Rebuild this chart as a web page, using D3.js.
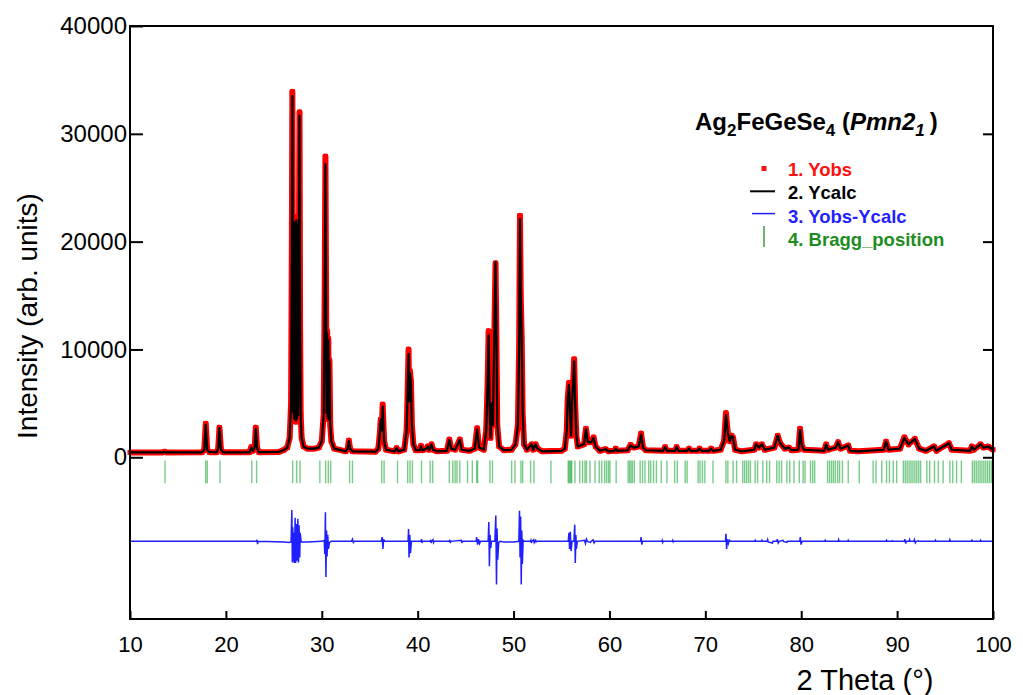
<!DOCTYPE html>
<html>
<head>
<meta charset="utf-8">
<script src="https://cdn.jsdelivr.net/npm/d3@7"></script>
<style>
    html, body { margin: 0; padding: 0; background: #fff; }
    svg { display: block; font-family: "Liberation Sans", Arial, sans-serif; }
</style>
</head>
<body>
<div class="container"></div>
<script>
const twoTheta = [
    10.0, 13.4, 13.6, 13.8, 17.5, 17.75, 17.9, 18.05, 18.3,
    19.05, 19.2, 19.33, 19.48, 19.7, 22.45, 22.65, 22.82, 23.0, 23.12, 23.25, 23.45,
    25.5, 26.0, 26.4, 26.65, 26.8, 26.88, 26.93, 26.98, 27.02, 27.06, 27.1,
    27.15, 27.2, 27.25, 27.3, 27.36, 27.42, 27.48, 27.54, 27.6, 27.68, 27.74, 27.8,
    27.9, 28.1, 28.5, 29.2, 29.7, 30.0, 30.2, 30.3, 30.38, 30.45, 30.5,
    30.56, 30.62, 30.68, 30.74, 30.8, 30.88, 31.0, 31.3, 32.5, 32.7, 32.83, 32.95, 33.2,
    35.6, 35.9, 36.05, 36.15, 36.25, 36.35, 36.5, 36.7, 37.6, 37.8, 38.0,
    38.6, 38.85, 38.95, 39.05, 39.12, 39.2, 39.3, 39.4, 39.55, 39.8,
    40.2, 40.35, 40.5, 40.9, 41.05, 41.2, 41.45, 41.6, 42.0,
    43.05, 43.3, 43.5, 43.9, 44.4, 44.6, 45.4, 45.95, 46.2, 46.4, 46.9,
    47.15, 47.3, 47.4, 47.5, 47.6, 47.7, 47.85, 47.95, 48.06, 48.12, 48.2, 48.3, 48.5,
    49.0, 49.8, 50.2, 50.45, 50.58, 50.67, 50.75, 50.85, 50.95, 51.1, 51.4,
    51.9, 52.05, 52.3, 52.5, 53.0, 55.0, 55.35, 55.55, 55.65, 55.78, 55.9, 56.0,
    56.1, 56.22, 56.32, 56.42, 56.55, 56.7, 57.35, 57.55, 57.75, 58.1, 58.35, 58.55, 59.0,
    59.6, 59.9, 60.5, 60.65, 60.8, 61.9, 62.2, 62.5, 63.05, 63.3, 63.5, 63.8,
    65.6, 65.8, 66.0, 66.85, 67.0, 67.2, 68.1, 68.3, 68.5, 69.2, 69.4, 69.6, 70.4, 70.6, 70.8,
    71.6, 71.95, 72.15, 72.35, 72.55, 72.75, 72.9, 73.1, 73.8,
    75.1, 75.3, 75.6, 75.9, 76.2, 77.2, 77.55, 77.8, 78.3, 78.7, 79.0,
    79.7, 79.88, 80.05, 80.3, 82.4, 82.6, 82.8, 83.6, 83.85, 84.1, 84.9, 85.1, 86.0,
    88.6, 88.85, 89.1, 90.3, 90.75, 91.2, 91.85, 92.3, 93.0, 93.85, 94.1, 95.4, 95.7,
    97.6, 97.8, 98.0, 98.7, 99.0, 99.5, 100.0
];
const yObs = [
    450, 450, 520, 450, 460, 700, 3100, 700, 470,
    470, 800, 2750, 750, 460, 460, 950, 600, 900, 2750, 900, 470,
    500, 650, 900, 1800, 5000, 20000, 33900, 16000, 4000, 21500, 3500,
    22000, 3400, 21800, 3300, 22300, 3500, 21800, 3800, 15000, 32000, 12000, 4000,
    1800, 1000, 800, 800, 900, 1500, 4000, 15000, 27900, 15000, 4000,
    11700, 3600, 11000, 3500, 9000, 3000, 1500, 800, 550, 800, 1550, 800, 550,
    520, 800, 2200, 3500, 2500, 4900, 1500, 700, 550, 850, 550,
    700, 2500, 6000, 10000, 5000, 8000, 7000, 3000, 1200, 650,
    650, 1050, 650, 800, 1000, 700, 1200, 700, 550,
    600, 1650, 800, 700, 1650, 700, 600, 800, 2700, 900, 700,
    2500, 7000, 11700, 4500, 1800, 5000, 3000, 9000, 15000, 18000, 12000, 3000, 1000,
    650, 700, 1200, 3000, 10000, 22400, 15000, 11000, 4000, 1200, 700,
    1200, 700, 1200, 800, 550, 600, 800, 2500, 5500, 6900, 4000, 2000,
    5000, 7000, 9100, 5000, 2000, 1000, 1200, 2650, 1400, 1400, 1850, 1000, 600,
    750, 550, 600, 800, 600, 650, 1150, 900, 1000, 2200, 900, 650,
    600, 950, 600, 600, 950, 600, 600, 800, 600, 600, 800, 600, 600, 800, 600,
    700, 1500, 4100, 2200, 1500, 2000, 1800, 700, 550,
    700, 1200, 900, 1200, 700, 900, 2000, 1300, 800, 900, 650,
    700, 2650, 1100, 700, 600, 1200, 700, 900, 1400, 800, 1100, 600, 550,
    700, 1450, 700, 800, 1850, 1200, 1700, 800, 600, 1000, 600, 1300, 700,
    600, 1000, 700, 1200, 900, 1000, 700
];
const yCalc = [
    450, 450, 500, 450, 460, 700, 3000, 700, 470,
    470, 800, 2700, 750, 460, 460, 900, 600, 900, 2650, 900, 470,
    500, 650, 900, 1800, 5000, 19000, 33500, 16500, 4200, 21000, 3600,
    21800, 3500, 21500, 3400, 22000, 3600, 21600, 3900, 15000, 31700, 12200, 4000,
    1800, 1000, 800, 800, 900, 1500, 4000, 14500, 27200, 15500, 4100,
    11500, 3600, 10900, 3500, 8900, 3000, 1500, 800, 550, 800, 1500, 800, 550,
    520, 800, 2200, 3500, 2500, 4700, 1500, 700, 550, 850, 550,
    700, 2500, 6000, 9600, 5200, 7800, 6900, 3000, 1200, 650,
    650, 1000, 650, 800, 1000, 700, 1200, 700, 550,
    600, 1600, 800, 700, 1600, 700, 600, 800, 2600, 900, 700,
    2500, 7000, 11300, 4700, 1800, 5000, 3000, 9000, 15000, 18100, 12500, 3200, 1000,
    650, 700, 1200, 3000, 10000, 22100, 15300, 11000, 4200, 1200, 700,
    1200, 700, 1200, 800, 550, 600, 800, 2500, 5500, 6700, 4000, 2000,
    5000, 7000, 8900, 5200, 2000, 1000, 1200, 2600, 1400, 1400, 1800, 1000, 600,
    750, 550, 600, 800, 600, 650, 1100, 900, 1000, 2100, 900, 650,
    600, 950, 600, 600, 950, 600, 600, 800, 600, 600, 800, 600, 600, 800, 600,
    700, 1500, 3900, 2200, 1500, 2000, 1800, 700, 550,
    700, 1200, 900, 1200, 700, 900, 2000, 1300, 800, 900, 650,
    700, 2550, 1100, 700, 600, 1200, 700, 900, 1400, 800, 1100, 600, 550,
    700, 1450, 700, 800, 1800, 1200, 1700, 800, 600, 1000, 600, 1300, 700,
    600, 1000, 700, 1200, 900, 1000, 700
];

// difference curve (Yobs - Ycalc, plotted with offset)
const diffTheta = [
    10.0, 23.2, 23.25, 23.3, 23.35, 26.0, 26.6, 26.8,
    26.88, 26.93, 26.98, 27.03, 27.1, 27.15, 27.22, 27.28, 27.35, 27.42, 27.5, 27.57, 27.63, 27.7, 27.75, 27.85,
    28.5, 30.0, 30.25, 30.32, 30.38, 30.43, 30.5, 30.55, 30.62, 30.7, 30.8, 31.0,
    33.1, 33.2, 33.3, 33.4, 36.2, 36.3, 36.38, 36.45, 36.55,
    39.0, 39.05, 39.1, 39.18, 39.25, 39.35,
    40.35, 40.4, 40.45, 40.5, 41.3, 41.35, 41.4, 41.45, 41.6, 41.65, 41.7,
    43.3, 43.35, 43.4, 43.45, 44.55, 44.6, 44.65, 46.1,
    46.15, 46.25, 46.35, 46.45, 46.55, 47.35, 47.42, 47.48, 47.55, 47.62, 47.7,
    48.05, 48.15, 48.22, 48.28, 48.35, 48.45, 48.6,
    49.0, 50.0, 50.55, 50.62, 50.68, 50.74, 50.8, 50.86, 50.92, 51.0, 51.1,
    51.75, 51.8, 51.85, 51.9, 52.1, 52.15, 52.2, 52.3, 52.35, 52.4,
    55.7, 55.78, 55.84, 55.92, 56.0, 56.1, 56.3, 56.38, 56.44, 56.5, 56.55, 56.65,
    57.4, 57.5, 57.6, 57.7, 58.0, 58.1, 58.3, 58.4, 58.5,
    63.25, 63.3, 63.38, 63.45, 65.45, 65.5, 65.55, 65.6, 66.55, 66.6, 66.65, 66.7,
    72.1, 72.15, 72.22, 72.3, 72.4, 72.5, 72.6,
    75.15, 75.2, 75.25, 75.85, 75.9, 75.95, 76.45, 76.5, 76.55, 77.0, 77.05,
    77.45, 77.5, 77.6, 77.7, 78.1, 78.15, 78.5, 78.55,
    79.85, 79.9, 79.98, 80.1, 82.45, 82.5, 82.55, 83.85, 83.9, 83.95, 84.85, 84.9, 84.95,
    88.85, 88.9, 88.95, 89.45, 89.5, 89.55, 90.75, 90.8, 90.9, 90.95,
    91.25, 91.3, 91.35, 91.75, 91.8, 91.9, 92.0, 92.2, 92.25,
    93.95, 94.0, 94.05, 95.45, 95.5, 95.55, 97.75, 97.8, 97.85, 98.65, 98.7, 98.75, 100.0
];
const diffVal = [
    -7800, -7800, -7650, -8050, -7800, -7850, -7900, -7850,
    -4900, -9750, -6500, -9700, -7000, -9800, -5600, -9800, -6200, -9600, -5700, -9750, -6300, -9300, -7000, -7850,
    -7850, -7800, -7700, -9000, -5100, -11100, -6800, -9200, -7200, -8500, -7900, -7800,
    -7800, -7600, -7900, -7800, -7800, -7400, -8500, -7600, -7800,
    -7800, -6650, -9300, -7200, -8900, -7800,
    -7800, -7600, -7950, -7800, -7800, -7650, -7950, -7800, -7650, -7900, -7800,
    -7800, -7650, -7950, -7800, -7700, -7950, -7800, -7800,
    -7400, -8100, -7600, -8000, -7800, -7800, -6000, -10100, -7200, -8400, -7800,
    -7800, -5400, -11800, -6600, -9500, -7900, -7800,
    -7850, -7850, -7800, -4950, -9300, -5500, -11800, -6800, -9900, -7700, -7800,
    -7800, -7700, -7950, -7800, -7650, -7900, -7800, -7700, -7850, -7800,
    -7800, -7000, -8500, -6900, -8700, -7800, -7800, -6250, -9800, -7200, -8500, -7800,
    -7700, -8000, -7600, -7800, -7900, -7800, -7650, -7950, -7800,
    -7800, -7400, -8100, -7800, -7800, -7700, -7900, -7800, -7800, -7700, -7850, -7800,
    -7800, -7100, -8500, -7600, -8000, -7700, -7800,
    -7800, -7700, -7800, -7800, -7700, -7800, -7800, -7650, -7850, -7950, -7800,
    -7800, -7600, -7950, -7800, -7700, -7800, -7900, -7800,
    -7800, -7400, -8100, -7800, -7800, -7700, -7800, -7800, -7650, -7800, -7800, -7700, -7800,
    -7800, -7700, -7800, -7800, -7750, -7800, -7800, -7600, -8000, -7800,
    -7800, -7650, -7800, -7800, -7650, -7950, -7800, -7750, -7800,
    -7800, -7700, -7800, -7800, -7650, -7800, -7800, -7700, -7800, -7800, -7700, -7800, -7800
];

// Bragg reflection positions (2theta)
const braggPos = [
    13.65, 17.9, 18.06, 19.38, 22.7, 23.2, 26.96, 27.38, 27.73, 29.8, 30.4, 30.68, 30.93, 32.9, 33.2,
    36.25, 36.5, 37.9, 38.96, 39.2, 39.45, 40.4, 41.3, 41.56, 43.3, 43.66, 43.9, 44.1, 44.4, 45.2, 45.7,
    46.15, 46.25, 47.54, 47.8, 49.8, 50.15, 50.77, 50.95, 51.78, 52.13, 53.9,
    55.7, 55.8, 55.9, 56.0, 56.06, 56.4, 56.9, 57.2, 57.45, 57.6, 57.97, 58.5, 58.94, 59.2, 59.5, 59.7,
    59.9, 60.05, 60.7, 61.95, 62.1, 62.25, 62.4, 62.6, 63.2, 63.45, 63.7, 64.1, 64.3, 64.6, 64.9, 65.4,
    66.0, 66.8, 67.07, 67.9, 68.1, 69.25, 69.45, 69.7, 69.95, 70.8, 72.15, 72.35, 72.9, 73.26, 73.9,
    74.1, 74.3, 74.5, 74.7, 75.2, 75.45, 76.0, 76.4, 76.7, 77.45, 77.7, 77.95, 78.5, 78.8, 79.25, 79.8,
    80.2, 80.4, 80.97, 81.2, 81.4, 82.75, 82.95, 83.15, 83.35, 83.55, 83.8, 84.0, 84.3, 84.9, 86.05,
    87.5, 87.8, 88.4, 88.9, 89.2, 89.6, 89.95, 90.65, 90.85, 91.05, 91.25, 91.45, 91.65, 91.85, 92.05,
    92.25, 92.45, 93.1, 93.4, 93.9, 94.3, 94.8, 95.5, 95.8, 96.2, 96.7, 97.85, 98.05, 98.25, 98.45,
    98.65, 98.85, 99.05, 99.25, 99.45, 99.65, 99.85
];
const braggSpan = [-300, -2400];

const xTicks = [10, 20, 30, 40, 50, 60, 70, 80, 90, 100];
const yTicks = [0, 10000, 20000, 30000, 40000];
const yTicksRight = [0, 10000, 20000, 30000];

const legendLabels = ["1. Yobs", "2. Ycalc", "3. Yobs-Ycalc", "4. Bragg_position"];
const legendColors = ["#ff1010", "#000000", "#1f1fff", "#1e8c1e"];

const w = 1023;
const h = 695;
const plotLeft = 130;
const plotRight = 993;
const plotTop = 26;
const plotBottom = 619;

const xScale = d3.scaleLinear().domain([10, 100]).range([plotLeft, plotRight]);
const yScale = d3.scaleLinear().domain([-15000, 40000]).range([plotBottom, plotTop]);

const svg = d3
    .select(".container")
    .append("svg")
    .attr("width", w)
    .attr("height", h);

// Bragg ticks
svg.append("g")
    .selectAll("line")
    .data(braggPos)
    .enter()
    .append("line")
    .attr("x1", (d) => xScale(d))
    .attr("x2", (d) => xScale(d))
    .attr("y1", yScale(braggSpan[0]))
    .attr("y2", yScale(braggSpan[1]))
    .attr("stroke", "#1fa83a")
    .attr("stroke-opacity", 0.6)
    .attr("stroke-width", 1.4);

// difference curve
const diffLine = d3
    .line()
    .x((i) => xScale(diffTheta[i]))
    .y((i) => yScale(diffVal[i]));
svg.append("path")
    .datum(d3.range(diffTheta.length))
    .attr("d", diffLine)
    .attr("fill", "none")
    .attr("stroke", "#1f1fff")
    .attr("stroke-width", 1.5);

// observed: dense red points, drawn as a broad band plus markers
const idx = d3.range(twoTheta.length);
const obsLine = d3
    .line()
    .x((i) => xScale(twoTheta[i]))
    .y((i) => yScale(yObs[i]));
svg.append("path")
    .datum(idx)
    .attr("d", obsLine)
    .attr("fill", "none")
    .attr("stroke", "#ff0000")
    .attr("stroke-width", 6)
    .attr("stroke-linejoin", "round");

svg.append("g")
    .selectAll("rect")
    .data(idx)
    .enter()
    .append("rect")
    .attr("x", (i) => xScale(twoTheta[i]) - 2.5)
    .attr("y", (i) => yScale(yObs[i]) - 2.5)
    .attr("width", 5)
    .attr("height", 5)
    .attr("fill", "#ff0000");

// calculated
const calcLine = d3
    .line()
    .x((i) => xScale(twoTheta[i]))
    .y((i) => yScale(yCalc[i]));
svg.append("path")
    .datum(idx)
    .attr("d", calcLine)
    .attr("fill", "none")
    .attr("stroke", "#000")
    .attr("stroke-width", 2.2)
    .attr("stroke-linejoin", "round");

// axes
const font = "'Liberation Sans', Arial, sans-serif";

const xAxis = d3
    .axisBottom(xScale)
    .tickValues(xTicks)
    .tickSizeInner(-8)
    .tickSizeOuter(0)
    .tickPadding(17)
    .tickFormat(d3.format("d"));
const gx = svg.append("g")
    .attr("transform", `translate(0, ${plotBottom})`)
    .call(xAxis);

const yAxis = d3
    .axisLeft(yScale)
    .tickValues(yTicks)
    .tickSizeInner(-13)
    .tickSizeOuter(0)
    .tickPadding(3)
    .tickFormat(d3.format("d"));
const gy = svg.append("g")
    .attr("transform", `translate(${plotLeft}, 0)`)
    .call(yAxis);

const yAxisRight = d3
    .axisRight(yScale)
    .tickValues(yTicksRight)
    .tickSizeInner(-10)
    .tickSizeOuter(0)
    .tickFormat("");
const gr = svg.append("g")
    .attr("transform", `translate(${plotRight}, 0)`)
    .call(yAxisRight);

[gx, gy, gr].forEach((g) => {
    g.select(".domain").remove();
    g.selectAll(".tick line").attr("stroke", "#000").attr("stroke-width", 2);
    g.selectAll("text").attr("fill", "#000");
    g.attr("font-family", font);
});
gx.attr("font-size", 22);
gy.attr("font-size", 24);

svg.append("rect")
    .attr("x", plotLeft)
    .attr("y", plotTop)
    .attr("width", plotRight - plotLeft)
    .attr("height", plotBottom - plotTop)
    .attr("fill", "none")
    .attr("stroke", "#000")
    .attr("stroke-width", 2);

// axis titles
svg.append("text")
    .attr("transform", "translate(37, 316) rotate(-90)")
    .attr("text-anchor", "middle")
    .attr("font-size", 28)
    .text("Intensity (arb. units)");

svg.append("text")
    .attr("x", 865)
    .attr("y", 690)
    .attr("text-anchor", "middle")
    .attr("font-size", 29)
    .text("2 Theta (°)");

// phase title
const title = svg.append("text")
    .attr("x", 695)
    .attr("y", 130)
    .attr("font-size", 24)
    .attr("font-weight", "bold");
title.append("tspan").text("Ag");
title.append("tspan").attr("dy", 6).attr("font-size", 17).text("2");
title.append("tspan").attr("dy", -6).text("FeGeSe");
title.append("tspan").attr("dy", 6).attr("font-size", 17).text("4");
title.append("tspan").attr("dy", -6).text(" (");
title.append("tspan").attr("font-style", "italic").text("Pmn2");
title.append("tspan").attr("dy", 6).attr("font-size", 17).attr("font-style", "italic").text("1");
title.append("tspan").attr("dy", -6).text("\u2009)");

// legend
const legend = svg.append("g").attr("transform", "translate(764, 176)");
const rowGap = 23.3;

legend.append("rect")
    .attr("x", -2.5).attr("y", -10).attr("width", 5).attr("height", 5)
    .attr("fill", legendColors[0]);
legend.append("line")
    .attr("x1", -14).attr("x2", 11).attr("y1", rowGap - 8).attr("y2", rowGap - 8)
    .attr("stroke", legendColors[1]).attr("stroke-width", 2);
legend.append("line")
    .attr("x1", -12).attr("x2", 11).attr("y1", 2 * rowGap - 9).attr("y2", 2 * rowGap - 9)
    .attr("stroke", legendColors[2]).attr("stroke-width", 1.5);
legend.append("line")
    .attr("x1", 0).attr("x2", 0).attr("y1", 3 * rowGap - 20).attr("y2", 3 * rowGap + 1)
    .attr("stroke", legendColors[3]).attr("stroke-width", 1.3);

legend.selectAll("text.lab")
    .data(legendLabels)
    .enter()
    .append("text")
    .attr("class", "lab")
    .attr("x", 24)
    .attr("y", (d, i) => i * rowGap)
    .attr("font-size", 18.5)
    .attr("font-weight", "bold")
    .attr("fill", (d, i) => legendColors[i])
    .text((d) => d);
</script>
</body>
</html>
